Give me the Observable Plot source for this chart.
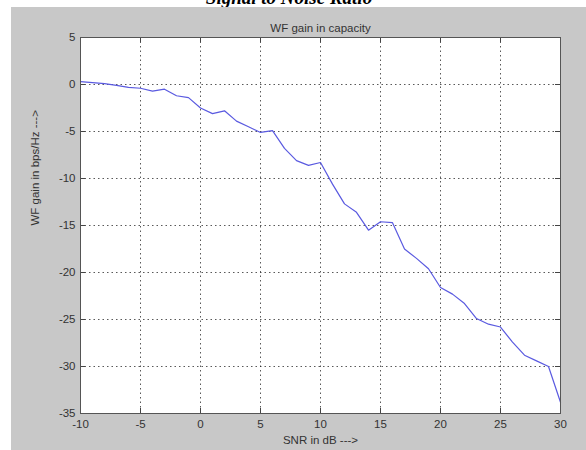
<!DOCTYPE html>
<html>
<head>
<meta charset="utf-8">
<script src="https://cdn.jsdelivr.net/npm/d3@7"></script>
<script src="https://cdn.jsdelivr.net/npm/@observablehq/plot@0.6"></script>
<style>
  html, body { margin: 0; padding: 0; background: #fff; }
  #fig { position: relative; width: 586px; height: 450px; overflow: hidden; }
  #suptitle {
    position: absolute; left: 0; width: 586px; top: -13px; text-align: center;
    font: italic bold 19px "Liberation Serif", "DejaVu Serif", serif; color: #000;
    padding-right: 8px; box-sizing: border-box;
  }
  #panel { position: absolute; left: 11px; top: 7px; width: 575px; height: 443px; background: #c8c8c8; }
  #chart { position: absolute; left: 0; top: 0; }
</style>
</head>
<body>
<div id="fig">
  <div id="suptitle">Signal to Noise Ratio</div>
  <div id="panel"></div>
  <div id="chart"></div>
</div>
<script>
// SNR sweep in dB
const snr = [-10, -9, -8, -7, -6, -5, -4, -3, -2, -1, 0, 1, 2, 3, 4, 5, 6, 7, 8, 9, 10,
             11, 12, 13, 14, 15, 16, 17, 18, 19, 20, 21, 22, 23, 24, 25, 26, 27, 28, 29, 30];
// Water-filling gain in capacity (bps/Hz) at each SNR
const wfGain = [0.3, 0.2, 0.1, -0.1, -0.3, -0.4, -0.7, -0.5, -1.2, -1.4, -2.5, -3.1, -2.8, -3.9, -4.5, -5.1, -4.9, -6.8, -8.1, -8.6, -8.3,
                -10.6, -12.7, -13.6, -15.5, -14.6, -14.7, -17.5, -18.5, -19.6, -21.6, -22.3, -23.3, -24.9, -25.5, -25.8, -27.4, -28.8, -29.4, -30.0, -33.8];
const xTicks = [-10, -5, 0, 5, 10, 15, 20, 25, 30];
const yTicks = [5, 0, -5, -10, -15, -20, -25, -30, -35];

const data = snr.map((s, i) => ({snr: s, gain: wfGain[i]}));

const W = 586, H = 450;
const mL = 80, mR = 26, mT = 37, mB = 37;
const innerH = H - mT - mB, innerW = W - mL - mR;
const font = "Liberation Sans, Arial, sans-serif";
const grid = {stroke: "#222", strokeOpacity: 0.75, strokeDasharray: "1.5,3", strokeWidth: 1};
const plain = d => String(d); // hyphen-minus like the classic plotting look

const chart = Plot.plot({
  width: W, height: H,
  marginLeft: mL, marginRight: mR, marginTop: mT, marginBottom: mB,
  style: {background: "transparent", fontFamily: font, fontSize: "11px", color: "#333"},
  x: {domain: [-10, 30]},
  y: {domain: [-35, 5]},
  marks: [
    Plot.frame({fill: "white", stroke: null}),
    Plot.gridX(xTicks.slice(1, -1), grid),
    Plot.gridY(yTicks.slice(1, -1), grid),
    // inward tick marks on all four sides
    Plot.tickX(xTicks, {x: d => d, insetTop: innerH - 5, stroke: "#444"}),
    Plot.tickX(xTicks, {x: d => d, insetBottom: innerH - 5, stroke: "#444"}),
    Plot.tickY(yTicks, {y: d => d, insetRight: innerW - 5, stroke: "#444"}),
    Plot.tickY(yTicks, {y: d => d, insetLeft: innerW - 5, stroke: "#444"}),
    Plot.axisX(xTicks, {tickSize: 0, tickPadding: 6, tickFormat: plain, label: null, fill: "#333", fontSize: 11.5}),
    Plot.axisY(yTicks, {tickSize: 0, tickPadding: 5, tickFormat: plain, label: null, fill: "#333", fontSize: 11.5}),
    Plot.lineY(data, {x: "snr", y: "gain", stroke: "#5a5ae0", strokeWidth: 1.2}),
    Plot.frame({stroke: "#555", strokeWidth: 1}),
    Plot.text(["WF gain in capacity"], {frameAnchor: "top", dy: -14, fill: "#333", fontSize: 11.5}),
    Plot.text(["SNR in dB --->"], {frameAnchor: "bottom", dy: 30, fill: "#333", fontSize: 11.5}),
    Plot.text(["WF gain in bps/Hz --->"], {frameAnchor: "left", dx: -45, rotate: -90, fill: "#333", fontSize: 11.5})
  ]
});
document.getElementById("chart").appendChild(chart);
</script>
</body>
</html>
